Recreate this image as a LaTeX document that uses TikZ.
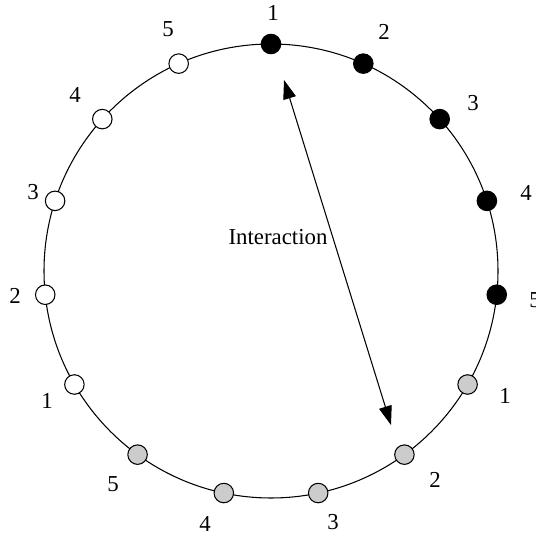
\documentclass[tikz,border=0pt]{standalone}
\usepackage{fontspec}
\setmainfont{Liberation Serif}
\usetikzlibrary{arrows.meta}
\begin{document}
\begin{tikzpicture}[dot/.style={circle, draw, line width=0.6pt, minimum size=0.39cm, inner sep=0pt},
                    num/.style={font=\fontsize{13}{15}\selectfont}]
                \useasboundingbox (-5.42,-5.30) rectangle (5.30,5.42);
                \draw [line width=0.6pt] (0,0) circle (4.54cm);
                % black group, 1 at the top
                \foreach \i/\lx/\ly in {1/0.04/5.16, 2/2.26/4.78, 3/4.04/3.36, 4/5.10/1.56, 5/5.28/-0.58} {
                    \node [dot, fill=black] (b\i) at ({114-24*\i}:4.54) {};
                    \node [num] at (\lx,\ly) {\i};
                }
                % grey group
                \foreach \i/\lx/\ly in {1/4.68/-2.50, 2/3.28/-4.18, 3/1.24/-5.02, 4/-1.32/-5.06, 5/-3.16/-4.26} {
                    \node [dot, fill=gray!40] (g\i) at ({-6-24*\i}:4.54) {};
                    \node [num] at (\lx,\ly) {\i};
                }
                % white group
                \foreach \i/\lx/\ly in {1/-4.48/-2.60, 2/-5.12/-0.50, 3/-4.76/1.58, 4/-3.92/3.52, 5/-2.06/4.84} {
                    \node [dot, fill=white] (w\i) at ({-126-24*\i}:4.54) {};
                    \node [num] at (\lx,\ly) {\i};
                }
                \coordinate (ia) at (0.26,3.82);
                \coordinate (ib) at (2.40,-3.08);
                \draw [{Triangle[length=0.38cm,width=0.26cm]}-{Triangle[length=0.38cm,width=0.26cm]}, line width=0.6pt] (ia) -- (ib);
                \node [num] (lab) at (0.14,0.68) {Interaction};
            \end{tikzpicture}
\end{document}
